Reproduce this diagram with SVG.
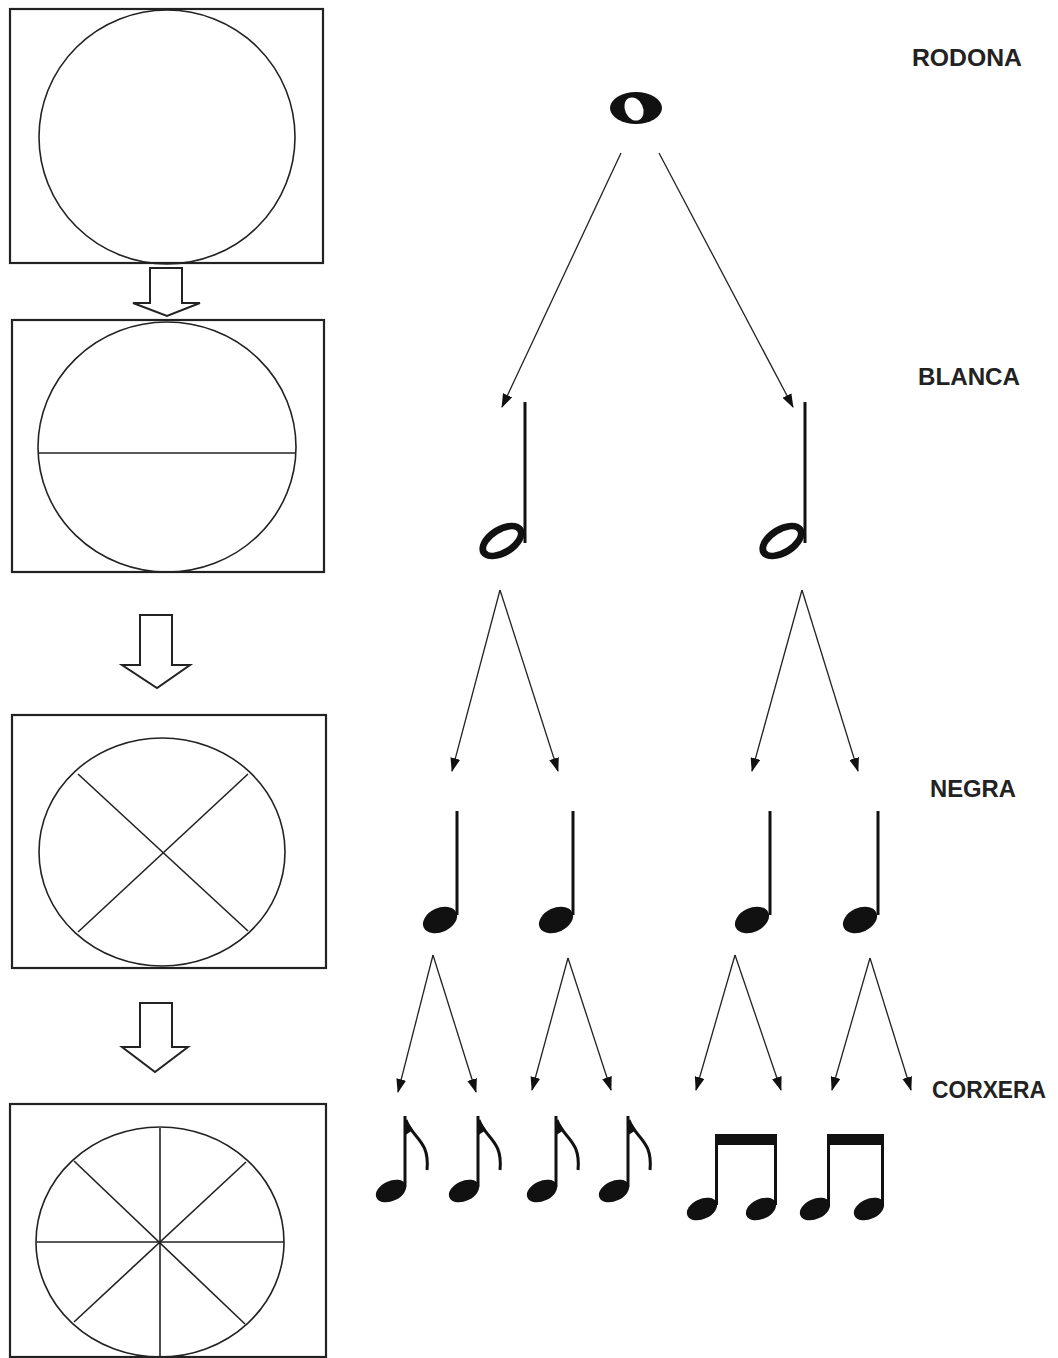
<svg xmlns="http://www.w3.org/2000/svg" width="1058" height="1358" viewBox="0 0 1058 1358">
<defs>
<style>
.box{fill:none;stroke:#222;stroke-width:2.2}
.ln{fill:none;stroke:#222;stroke-width:1.6}
.conn{fill:none;stroke:#222;stroke-width:1.3;marker-end:url(#ah)}
.stem{stroke:#111;stroke-width:3;fill:none}
.head{fill:#111}
.lbl{font-family:"Liberation Sans",Arial,sans-serif;font-size:23px;fill:#222;font-weight:bold}
.hollow{fill:#fff;stroke:#222;stroke-width:2}
</style>
<marker id="ah" viewBox="0 0 14 10" refX="13" refY="5" markerWidth="14" markerHeight="10" markerUnits="userSpaceOnUse" orient="auto">
<path d="M0,0 L14,5 L0,10 Z" fill="#111"/>
</marker>
</defs>
<rect width="1058" height="1358" fill="#fff"/>

<g id="box1">
<rect class="box" x="10" y="9" width="313" height="254"/>
<ellipse class="ln" cx="167" cy="137" rx="128" ry="127"/>
</g>
<g id="box2">
<rect class="box" x="12" y="320" width="312" height="252"/>
<ellipse class="ln" cx="167" cy="447" rx="129" ry="125"/>
<line class="ln" x1="38" y1="453" x2="296" y2="453"/>
</g>
<g id="box3">
<rect class="box" x="12" y="715" width="314" height="253"/>
<ellipse class="ln" cx="162" cy="852" rx="123" ry="114"/>
<line class="ln" x1="78" y1="774" x2="248" y2="931"/>
<line class="ln" x1="248" y1="774" x2="78" y2="932"/>
</g>
<g id="box4">
<rect class="box" x="10" y="1104" width="316" height="253"/>
<ellipse class="ln" cx="160" cy="1242" rx="124" ry="115"/>
<line class="ln" x1="37" y1="1242" x2="284" y2="1242"/>
<line class="ln" x1="160" y1="1128" x2="160" y2="1357"/>
<line class="ln" x1="74" y1="1161" x2="245" y2="1324"/>
<line class="ln" x1="246" y1="1162" x2="74" y2="1322"/>
</g>

<g id="box-arrows">
<path class="hollow" d="M150,268 L182,268 L182,303 L200,303 L167,316 L133,303 L150,303 Z"/>
<path class="hollow" d="M140,615 L172,615 L172,665 L190,665 L157,688 L122,665 L140,665 Z"/>
<path class="hollow" d="M140,1003 L172,1003 L172,1047 L188,1047 L155,1072 L122,1047 L140,1047 Z"/>
</g>

<g id="labels">
<text class="lbl" x="912" y="66" textLength="110" lengthAdjust="spacingAndGlyphs">RODONA</text>
<text class="lbl" x="918" y="385" textLength="102" lengthAdjust="spacingAndGlyphs">BLANCA</text>
<text class="lbl" x="930" y="797" textLength="86" lengthAdjust="spacingAndGlyphs">NEGRA</text>
<text class="lbl" x="932" y="1098" textLength="114" lengthAdjust="spacingAndGlyphs">CORXERA</text>
</g>

<g id="connectors">
<line class="conn" x1="621" y1="153" x2="502" y2="407"/>
<line class="conn" x1="659" y1="153" x2="793" y2="407"/>
<line class="conn" x1="500" y1="590" x2="452" y2="771"/>
<line class="conn" x1="500" y1="590" x2="558" y2="771"/>
<line class="conn" x1="802" y1="590" x2="752" y2="771"/>
<line class="conn" x1="802" y1="590" x2="858" y2="771"/>
<line class="conn" x1="433" y1="955" x2="398" y2="1092"/>
<line class="conn" x1="433" y1="955" x2="476" y2="1092"/>
<line class="conn" x1="568" y1="958" x2="532" y2="1090"/>
<line class="conn" x1="568" y1="958" x2="611" y2="1090"/>
<line class="conn" x1="735" y1="955" x2="696" y2="1090"/>
<line class="conn" x1="735" y1="955" x2="781" y2="1090"/>
<line class="conn" x1="870" y1="958" x2="832" y2="1090"/>
<line class="conn" x1="870" y1="958" x2="911" y2="1090"/>
</g>

<g id="rodona">
<ellipse cx="636" cy="108" rx="26" ry="16" fill="#111"/>
<ellipse cx="634" cy="109" rx="9" ry="12" transform="rotate(-25 634 109)" fill="#fff"/>
</g>

<g id="blanca1">
<line class="stem" x1="525" y1="402" x2="525" y2="543"/>
<ellipse cx="502" cy="541" rx="25" ry="15" transform="rotate(-32 502 541)" fill="#111"/>
<ellipse cx="502" cy="541" rx="18" ry="8" transform="rotate(-32 502 541)" fill="#fff"/>
</g>
<g id="blanca2">
<line class="stem" x1="805" y1="402" x2="805" y2="543"/>
<ellipse cx="782" cy="541" rx="25" ry="15" transform="rotate(-32 782 541)" fill="#111"/>
<ellipse cx="782" cy="541" rx="18" ry="8" transform="rotate(-32 782 541)" fill="#fff"/>
</g>

<g id="negra1">
<line class="stem" x1="457" y1="811" x2="457" y2="915"/>
<ellipse class="head" cx="440" cy="920" rx="18" ry="12" transform="rotate(-25 440 920)"/>
</g>
<g id="negra2">
<line class="stem" x1="573" y1="811" x2="573" y2="915"/>
<ellipse class="head" cx="556" cy="920" rx="18" ry="12" transform="rotate(-25 556 920)"/>
</g>
<g id="negra3">
<line class="stem" x1="770" y1="811" x2="770" y2="915"/>
<ellipse class="head" cx="752" cy="920" rx="18" ry="12" transform="rotate(-25 752 920)"/>
</g>
<g id="negra4">
<line class="stem" x1="878" y1="811" x2="878" y2="915"/>
<ellipse class="head" cx="860" cy="920" rx="18" ry="12" transform="rotate(-25 860 920)"/>
</g>

<g id="corxera1">
<line class="stem" x1="405" y1="1116" x2="405" y2="1187"/>
<path d="M404,1116 L404,1136 L413,1130 Z" fill="#111"/>
<path class="stem" d="M406,1120 C412,1138 430,1140 427,1170"/>
<ellipse class="head" cx="391" cy="1191" rx="16" ry="10" transform="rotate(-25 391 1191)"/>
</g>
<g id="corxera2">
<line class="stem" x1="478" y1="1116" x2="478" y2="1187"/>
<path d="M477,1116 L477,1136 L486,1130 Z" fill="#111"/>
<path class="stem" d="M479,1120 C485,1138 503,1140 500,1170"/>
<ellipse class="head" cx="464" cy="1191" rx="16" ry="10" transform="rotate(-25 464 1191)"/>
</g>
<g id="corxera3">
<line class="stem" x1="556" y1="1116" x2="556" y2="1187"/>
<path d="M555,1116 L555,1136 L564,1130 Z" fill="#111"/>
<path class="stem" d="M557,1120 C563,1138 581,1140 578,1170"/>
<ellipse class="head" cx="542" cy="1191" rx="16" ry="10" transform="rotate(-25 542 1191)"/>
</g>
<g id="corxera4">
<line class="stem" x1="628" y1="1116" x2="628" y2="1187"/>
<path d="M627,1116 L627,1136 L636,1130 Z" fill="#111"/>
<path class="stem" d="M629,1120 C635,1138 653,1140 650,1170"/>
<ellipse class="head" cx="614" cy="1191" rx="16" ry="10" transform="rotate(-25 614 1191)"/>
</g>

<g id="corxera-pair1">
<rect x="715" y="1134" width="62" height="11" fill="#111"/>
<line class="stem" x1="716.5" y1="1134" x2="716.5" y2="1205"/>
<line class="stem" x1="775.5" y1="1134" x2="775.5" y2="1205"/>
<ellipse class="head" cx="702" cy="1209" rx="16" ry="10" transform="rotate(-25 702 1209)"/>
<ellipse class="head" cx="761" cy="1209" rx="16" ry="10" transform="rotate(-25 761 1209)"/>
</g>
<g id="corxera-pair2">
<rect x="827" y="1134" width="57" height="11" fill="#111"/>
<line class="stem" x1="828.5" y1="1134" x2="828.5" y2="1205"/>
<line class="stem" x1="882.5" y1="1134" x2="882.5" y2="1205"/>
<ellipse class="head" cx="815" cy="1209" rx="16" ry="10" transform="rotate(-25 815 1209)"/>
<ellipse class="head" cx="869" cy="1209" rx="16" ry="10" transform="rotate(-25 869 1209)"/>
</g>
</svg>
